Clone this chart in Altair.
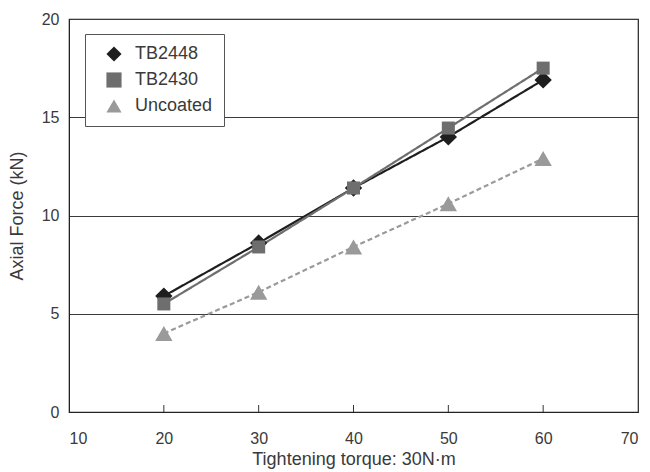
import altair as alt
import pandas as pd

torque = [20, 30, 40, 50, 60]
series_names = ["TB2448", "TB2430", "Uncoated"]
tb2448 = [5.9, 8.6, 11.4, 14.0, 16.9]
tb2430 = [5.5, 8.4, 11.4, 14.45, 17.5]
uncoated = [4.0, 6.1, 8.4, 10.6, 12.9]
x_ticks = [10, 20, 30, 40, 50, 60, 70]
y_ticks = [0, 5, 10, 15, 20]

rows = []
for name, vals in zip(series_names, [tb2448, tb2430, uncoated]):
    for t, v in zip(torque, vals):
        rows.append({"torque": t, "force": v, "series": name})
df = pd.DataFrame(rows)
ticks_df = pd.DataFrame({"t": x_ticks[1:-1]})

font = "Liberation Sans"
text_color = "#3a3a3a"
colors = ["#1e1e1e", "#6e6e6e", "#9a9a9a"]
W, H = 569, 393

legend = alt.Legend(title=None, orient="none", legendX=16, legendY=15,
                    strokeColor="#555", padding=11, labelFontSize=18,
                    labelFont=font, labelColor=text_color,
                    rowPadding=8, labelOffset=12, symbolOffset=9, symbolSize=230,
                    fillColor="white", symbolStrokeWidth=0)

color = alt.Color("series:N", scale=alt.Scale(domain=series_names, range=colors),
                  sort=series_names, legend=legend)

x = alt.X("torque:Q", scale=alt.Scale(domain=[10, 70], nice=False),
          axis=alt.Axis(values=x_ticks, title="Tightening torque: 30N·m", grid=False,
                        ticks=False, domain=True, domainColor="#222",
                        labelFontSize=16, labelPadding=18, labelColor=text_color,
                        titleFontSize=18, titleFontWeight="normal", titleColor=text_color,
                        titleY=52, titleBaseline="alphabetic",
                        labelFont=font, titleFont=font))
y = alt.Y("force:Q", scale=alt.Scale(domain=[0, 20], nice=False),
          axis=alt.Axis(values=y_ticks, title="Axial Force (kN)", grid=True,
                        gridColor="#3a3a3a", gridWidth=1, ticks=False,
                        domainColor="#222", labelFontSize=16, labelPadding=10,
                        labelColor=text_color, titleFontSize=18, titleFontWeight="normal",
                        titleColor=text_color, titleX=-52, titleY=H / 2, titleAngle=270,
                        titleAlign="center", titleBaseline="middle",
                        labelFont=font, titleFont=font))

lines = alt.Chart(df).mark_line(strokeWidth=2.2).encode(
    x=x, y=y,
    color=color,
    strokeDash=alt.StrokeDash("series:N", scale=alt.Scale(domain=series_names, range=[[1, 0], [1, 0], [5, 3]]), legend=None),
    detail="series:N",
)

points = alt.Chart(df).transform_calculate(
    msize="datum.series == 'TB2430' ? 170 : (datum.series == 'Uncoated' ? 300 : 300)"
).mark_point(filled=True, opacity=1).encode(
    x="torque:Q", y="force:Q",
    color=color,
    shape=alt.Shape("series:N", scale=alt.Scale(domain=series_names, range=["diamond", "square", "triangle-up"]),
                    sort=series_names, legend=legend),
    size=alt.Size("msize:Q", scale=None, legend=None),
)

ticks = alt.Chart(ticks_df).mark_rule(color="#333", strokeWidth=1).encode(
    x="t:Q", y=alt.value(H), y2=alt.value(H - 7)
)

chart = alt.layer(lines, points, ticks).properties(
    width=W, height=H,
    padding={"left": 61, "top": 11, "right": 4, "bottom": 60},
    autosize=alt.AutoSizeParams(type="none"),
).configure_view(stroke="#222", strokeWidth=1.2)

chart.save("out.html", embed_options={"renderer": "svg", "actions": False})
